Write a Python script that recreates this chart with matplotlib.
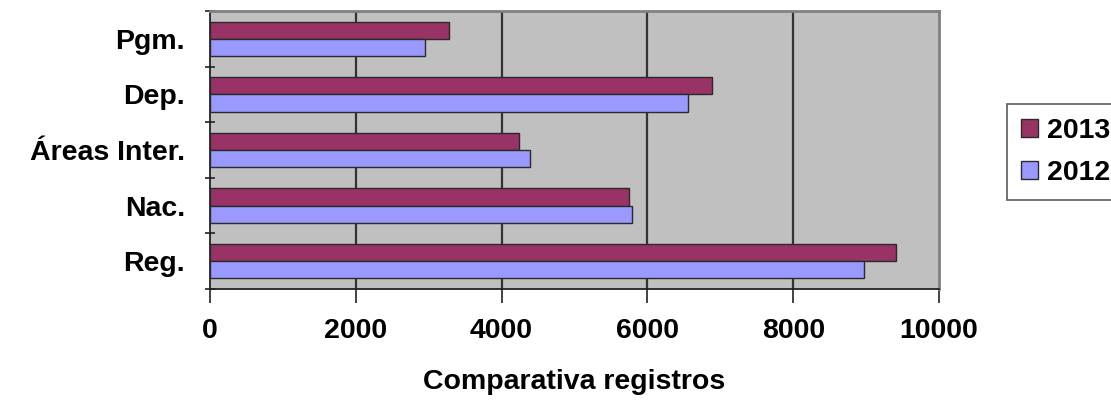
import numpy as np
import matplotlib
matplotlib.use("Agg")
import matplotlib.pyplot as plt
from matplotlib.patches import Patch

# ── Data ────────────────────────────────────────────────────
categories = ["Reg.", "Nac.", "Áreas Inter.", "Dep.", "Pgm."]
vals_2013  = [9410, 5745, 4245, 6885, 3285]
vals_2012  = [8970, 5785, 4395, 6555, 2955]
xticks     = [0, 2000, 4000, 6000, 8000, 10000]

STYLE = {
    "y2013": "#993366",
    "y2012": "#9999FF",
    "bg":    "#C0C0C0",
    "grid":  "#333333",
    "edge":  "#2a2a2a",
}
FS = 20.5

plt.rcParams["font.family"] = ["Liberation Sans", "DejaVu Sans"]
plt.rcParams["font.weight"] = "bold"

fig = plt.figure(figsize=(11.11, 4.03), dpi=100, facecolor="white")
ax = fig.add_axes([210 / 1111, 1 - 289 / 403, 729 / 1111, 278 / 403])
ax.set_facecolor(STYLE["bg"])

y = np.arange(len(categories))
h = 0.31
ax.barh(y + h / 2, vals_2013, height=h, color=STYLE["y2013"],
        edgecolor=STYLE["edge"], lw=1, zorder=3)
ax.barh(y - h / 2, vals_2012, height=h, color=STYLE["y2012"],
        edgecolor=STYLE["edge"], lw=1, zorder=3)

ax.set_xlim(0, 10000)
ax.set_ylim(-0.5, len(categories) - 0.5)
ax.set_xticks(xticks)
ax.set_xticklabels([str(t) for t in xticks], fontsize=FS, fontweight="bold")
ax.tick_params(axis="x", length=10, width=1.2, pad=11, color="#222222")

# category labels centred, tick marks on the boundaries
ax.set_yticks(y)
ax.set_yticklabels(categories, fontsize=FS, fontweight="bold")
ax.tick_params(axis="y", which="major", length=0, pad=18)
ax.set_yticks(np.arange(len(categories) + 1) - 0.5, minor=True)
ax.tick_params(axis="y", which="minor", length=7, width=1.2,
               direction="inout", color="#222222")

for gx in xticks[1:-1]:
    ax.axvline(gx, color=STYLE["grid"], lw=1.6, zorder=1)

for side in ["top", "right"]:
    ax.spines[side].set_color("#808080")
    ax.spines[side].set_linewidth(2)
for side in ["left", "bottom"]:
    ax.spines[side].set_color("#222222")
    ax.spines[side].set_linewidth(1.3)

ax.set_xlabel("Comparativa registros", fontsize=FS, fontweight="bold",
              labelpad=18)

handles = [Patch(facecolor=STYLE["y2013"], edgecolor=STYLE["edge"], label="2013"),
           Patch(facecolor=STYLE["y2012"], edgecolor=STYLE["edge"], label="2012")]
leg = fig.legend(handles=handles, loc="upper left",
                 bbox_to_anchor=(1007 / 1111, 1 - 104 / 403),
                 fontsize=FS, frameon=True, fancybox=False,
                 handlelength=0.6, handleheight=0.6, handletextpad=0.3,
                 labelspacing=0.55, borderpad=0.5, borderaxespad=0)
leg.get_frame().set_edgecolor("#333333")
leg.get_frame().set_linewidth(1.2)
for t in leg.get_texts():
    t.set_fontweight("bold")

plt.savefig("out.png", dpi=100)
plt.close()
